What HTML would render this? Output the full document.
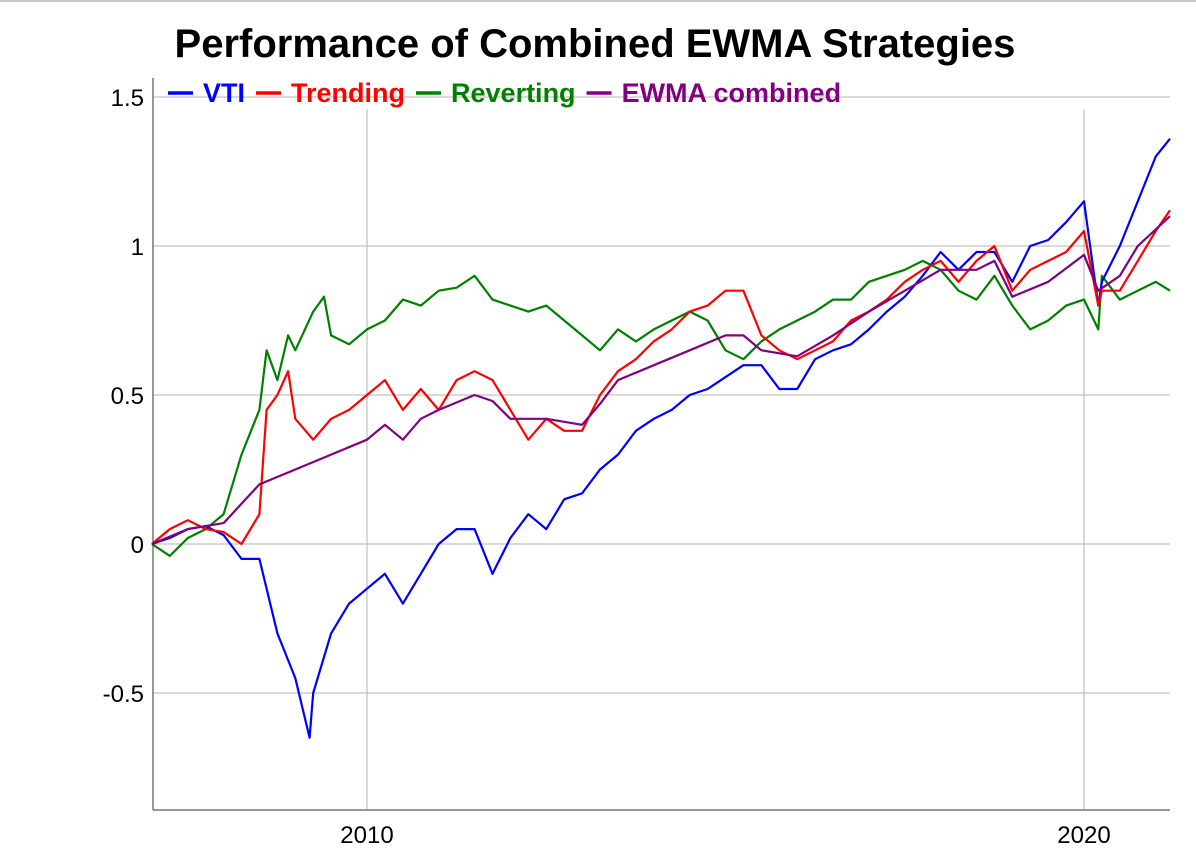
<!DOCTYPE html>
<html><head><meta charset="utf-8"><style>
body{margin:0;background:#fff;font-family:"Liberation Sans",Arial,sans-serif}
#wrap{position:relative;width:1196px;height:868px;overflow:hidden;border-top:2px solid #c8c8c8;box-sizing:border-box}
</style></head><body>
<div id="wrap">
<svg id="chart" width="1196" height="866" viewBox="0 2 1196 866"></svg>
</div>
<script>
const xTickLabels=["2010","2020"];
const xTickYears=[2010,2020];
const yTicks=[-0.5,0,0.5,1,1.5];
const yTickLabels=["-0.5","0","0.5","1","1.5"];
const seriesNames=["VTI","Trending","Reverting","EWMA combined"];
const vtiT=[2007,2007.25,2007.5,2007.75,2008,2008.25,2008.5,2008.75,2009,2009.2,2009.25,2009.5,2009.75,2010,2010.25,2010.5,2010.75,2011,2011.25,2011.5,2011.75,2012,2012.25,2012.5,2012.75,2013,2013.25,2013.5,2013.75,2014,2014.25,2014.5,2014.75,2015,2015.25,2015.5,2015.75,2016,2016.25,2016.5,2016.75,2017,2017.25,2017.5,2017.75,2018,2018.25,2018.5,2018.75,2019,2019.25,2019.5,2019.75,2020,2020.2,2020.25,2020.5,2020.75,2021,2021.2];
const vtiV=[0,0.02,0.05,0.06,0.03,-0.05,-0.05,-0.3,-0.45,-0.65,-0.5,-0.3,-0.2,-0.15,-0.1,-0.2,-0.1,0,0.05,0.05,-0.1,0.02,0.1,0.05,0.15,0.17,0.25,0.3,0.38,0.42,0.45,0.5,0.52,0.56,0.6,0.6,0.52,0.52,0.62,0.65,0.67,0.72,0.78,0.83,0.9,0.98,0.92,0.98,0.98,0.88,1.0,1.02,1.08,1.15,0.8,0.88,1.0,1.15,1.3,1.36];
const trendT=[2007,2007.25,2007.5,2007.75,2008,2008.25,2008.5,2008.6,2008.75,2008.9,2009,2009.25,2009.5,2009.75,2010,2010.25,2010.5,2010.75,2011,2011.25,2011.5,2011.75,2012,2012.25,2012.5,2012.75,2013,2013.25,2013.5,2013.75,2014,2014.25,2014.5,2014.75,2015,2015.25,2015.5,2015.75,2016,2016.25,2016.5,2016.75,2017,2017.25,2017.5,2017.75,2018,2018.25,2018.5,2018.75,2019,2019.25,2019.5,2019.75,2020,2020.2,2020.25,2020.5,2020.75,2021,2021.2];
const trendV=[0,0.05,0.08,0.05,0.04,0,0.1,0.45,0.5,0.58,0.42,0.35,0.42,0.45,0.5,0.55,0.45,0.52,0.45,0.55,0.58,0.55,0.45,0.35,0.42,0.38,0.38,0.5,0.58,0.62,0.68,0.72,0.78,0.8,0.85,0.85,0.7,0.65,0.62,0.65,0.68,0.75,0.78,0.82,0.88,0.92,0.95,0.88,0.95,1.0,0.85,0.92,0.95,0.98,1.05,0.8,0.85,0.85,0.95,1.05,1.12];
const revT=[2007,2007.25,2007.5,2007.75,2008,2008.25,2008.5,2008.6,2008.75,2008.9,2009,2009.25,2009.4,2009.5,2009.75,2010,2010.25,2010.5,2010.75,2011,2011.25,2011.5,2011.75,2012,2012.25,2012.5,2012.75,2013,2013.25,2013.5,2013.75,2014,2014.25,2014.5,2014.75,2015,2015.25,2015.5,2015.75,2016,2016.25,2016.5,2016.75,2017,2017.25,2017.5,2017.75,2018,2018.25,2018.5,2018.75,2019,2019.25,2019.5,2019.75,2020,2020.2,2020.25,2020.5,2020.75,2021,2021.2];
const revV=[0,-0.04,0.02,0.05,0.1,0.3,0.45,0.65,0.55,0.7,0.65,0.78,0.83,0.7,0.67,0.72,0.75,0.82,0.8,0.85,0.86,0.9,0.82,0.8,0.78,0.8,0.75,0.7,0.65,0.72,0.68,0.72,0.75,0.78,0.75,0.65,0.62,0.68,0.72,0.75,0.78,0.82,0.82,0.88,0.9,0.92,0.95,0.92,0.85,0.82,0.9,0.8,0.72,0.75,0.8,0.82,0.72,0.9,0.82,0.85,0.88,0.85];
const combT=[2007,2007.5,2008,2008.5,2009,2009.5,2010,2010.25,2010.5,2010.75,2011,2011.5,2011.75,2012,2012.5,2013,2013.25,2013.5,2014,2014.5,2015,2015.25,2015.5,2016,2016.5,2017,2017.5,2018,2018.5,2018.75,2019,2019.5,2020,2020.2,2020.5,2020.75,2021.2];
const combV=[0,0.05,0.07,0.2,0.25,0.3,0.35,0.4,0.35,0.42,0.45,0.5,0.48,0.42,0.42,0.4,0.47,0.55,0.6,0.65,0.7,0.7,0.65,0.63,0.7,0.78,0.85,0.92,0.92,0.95,0.83,0.88,0.97,0.85,0.9,1.0,1.1];

const NS="http://www.w3.org/2000/svg";
const svg=document.getElementById('chart');
const L=153,R=1170,T=78,B=810;
function xs(t){return 367+(t-2010)*71.7;}
function ys(v){return 544-v*298;}
function mk(tag,attrs){const e=document.createElementNS(NS,tag);for(const k in attrs)e.setAttribute(k,attrs[k]);svg.appendChild(e);return e;}

yTicks.forEach((v,i)=>{
  const g=mk('line',{x1:L,x2:R,y1:ys(v),y2:ys(v),stroke:'#b4b4b4','stroke-width':1});
  
  
  const t=mk('text',{x:L-9,y:ys(v)+9,'text-anchor':'end','font-size':24,fill:'#000'});
  t.textContent=yTickLabels[i];
  
  
});
xTickYears.forEach((yr,i)=>{
  const g=mk('line',{x1:xs(yr),x2:xs(yr),y1:109,y2:B,stroke:'#b4b4b4','stroke-width':1});
  
  
  const t=mk('text',{x:xs(yr),y:843,'text-anchor':'middle','font-size':24,fill:'#000'});
  t.textContent=xTickLabels[i];
  
  
});
const ya=mk('line',{x1:L,x2:L,y1:T,y2:B,stroke:'#777','stroke-width':1.5});


const xa=mk('line',{x1:L,x2:R,y1:B,y2:B,stroke:'#777','stroke-width':1.5});



function drawSeries(ts,vs,color,name){
  let d='';
  ts.forEach((t,i)=>{d+=(i?'L':'M')+xs(t).toFixed(1)+','+ys(vs[i]).toFixed(1);});
  const p=mk('path',{d:d,fill:'none',stroke:color,'stroke-width':2.2,'stroke-linejoin':'round'});
  
  
}
drawSeries(revT,revV,'#008000','series-reverting');
drawSeries(vtiT,vtiV,'#0000ff','series-vti');
drawSeries(trendT,trendV,'#ff0000','series-trending');
drawSeries(combT,combV,'#800080','series-ewma-combined');

const title=mk('text',{x:595,y:57,'text-anchor':'middle','font-size':40,'font-weight':'bold',fill:'#000'});
title.textContent='Performance of Combined EWMA Strategies';



const legColors=['#0000ff','#ff0000','#008000','#800080'];
let lx=168;
seriesNames.forEach((n,i)=>{
  const ln=mk('line',{x1:lx,x2:lx+25,y1:93,y2:93,stroke:legColors[i],'stroke-width':3.5});
  
  
  const t=mk('text',{x:lx+35,y:102,'font-size':27,'font-weight':'bold',fill:legColors[i]});
  t.textContent=n;
  
  
  lx+=35+t.getComputedTextLength()+11;
});
</script>
</body></html>
